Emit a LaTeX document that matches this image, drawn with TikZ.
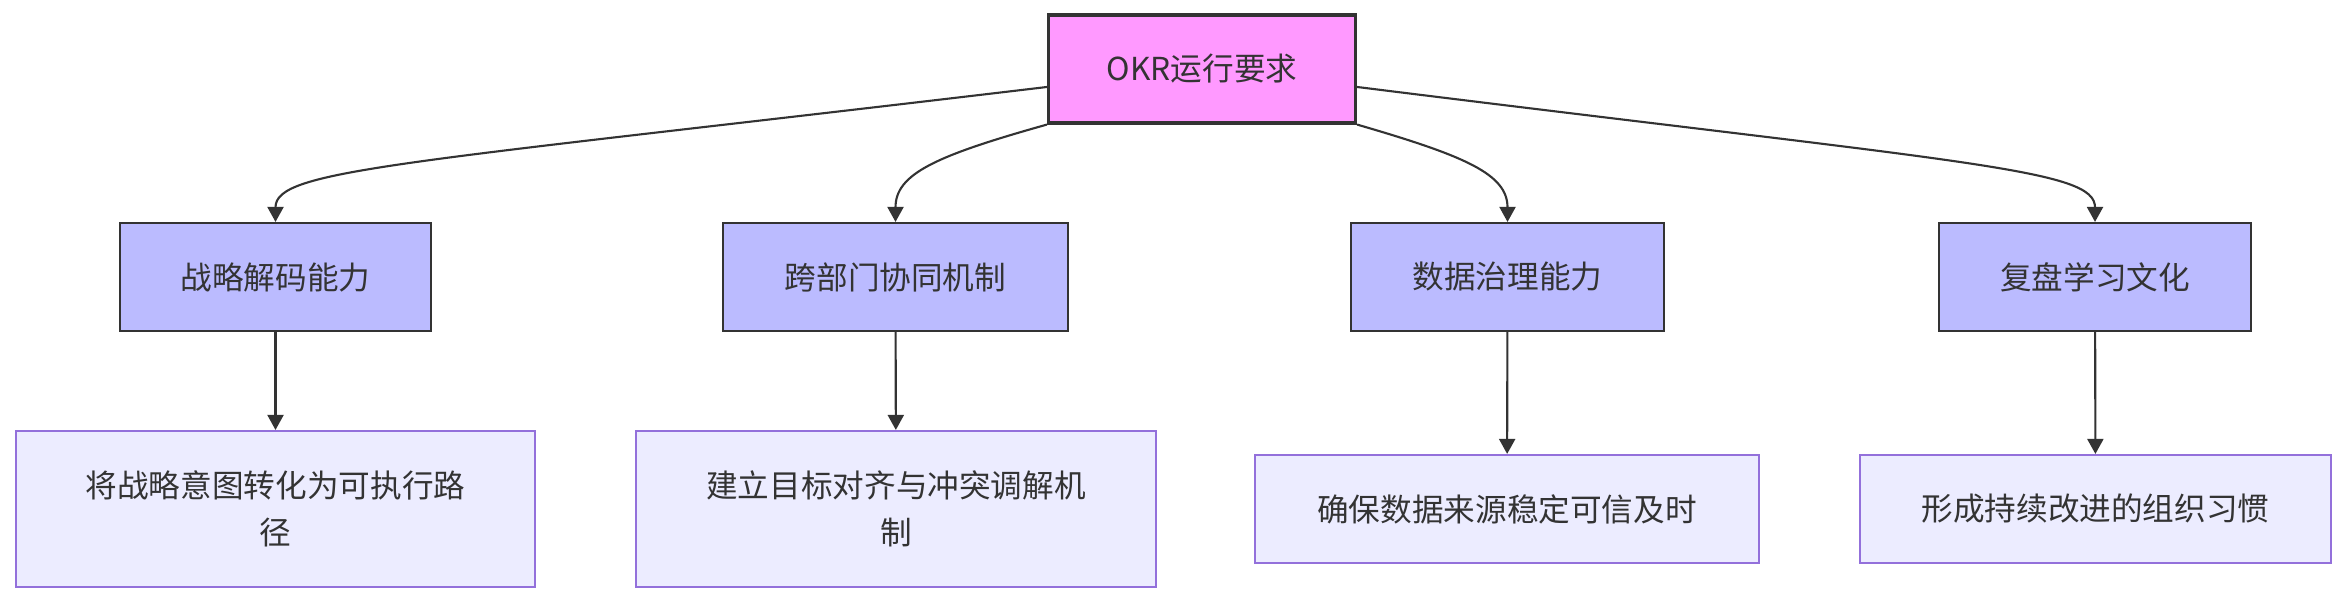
\documentclass[tikz,border=0pt]{standalone}
\usepackage{fontspec}
\newfontfamily\cjk{Noto Sans CJK SC}
\usetikzlibrary{arrows.meta}
\definecolor{ink}{HTML}{333333}
\definecolor{rootfill}{HTML}{FF99FF}
\definecolor{midfill}{HTML}{BBBBFF}
\definecolor{leaffill}{HTML}{ECECFF}
\definecolor{leafline}{HTML}{9370DB}

\begin{document}
\begin{tikzpicture}[>={Triangle[length=1.5mm,width=1.6mm]},
        every node/.style={font=\cjk\fontsize{9}{13.4}\selectfont, text=ink, inner sep=0pt},
        topbox/.style={draw=ink, line width=0.9pt, fill=rootfill, minimum height=1.08cm},
        midbox/.style={draw=ink, line width=0.6pt, fill=midfill, minimum height=1.08cm},
        leafbox/.style={draw=leafline, line width=0.6pt, fill=leaffill, align=center}]
        \useasboundingbox (0,0) rectangle (23.48,6.04);

        \node[topbox, minimum width=3.07cm] (O) at (12.02,5.35) {OKR运行要求};

        \node[midbox, minimum width=3.11cm] (A) at (2.755,3.27) {战略解码能力};
        \node[midbox, minimum width=3.45cm] (B) at (8.955,3.27) {跨部门协同机制};
        \node[midbox, minimum width=3.13cm] (C) at (15.075,3.27) {数据治理能力};
        \node[midbox, minimum width=3.12cm] (D) at (20.95,3.27) {复盘学习文化};

        \node[leafbox, minimum width=5.19cm, minimum height=1.56cm] (A1) at (2.755,0.95) {将战略意图转化为可执行路\\径};
        \node[leafbox, minimum width=5.20cm, minimum height=1.56cm] (B1) at (8.96,0.95) {建立目标对齐与冲突调解机\\制};
        \node[leafbox, minimum width=5.04cm, minimum height=1.08cm] (C1) at (15.07,0.95) {确保数据来源稳定可信及时};
        \node[leafbox, minimum width=4.71cm, minimum height=1.08cm] (D1) at (20.955,0.95) {形成持续改进的组织习惯};

        \draw[->, ink, line width=0.6pt] ([yshift=-0.18cm]O.west) .. controls (4.0,4.40) and (2.755,4.35) .. (A.north);
        \draw[->, ink, line width=0.6pt] (O.south west) .. controls (9.35,4.48) and (8.955,4.3) .. (B.north);
        \draw[->, ink, line width=0.6pt] (O.south east) .. controls (14.65,4.48) and (15.075,4.3) .. (C.north);
        \draw[->, ink, line width=0.6pt] ([yshift=-0.18cm]O.east) .. controls (19.75,4.40) and (20.95,4.35) .. (D.north);

        \draw[->, ink, line width=0.6pt] (A) -- (A1);
        \draw[->, ink, line width=0.6pt] (B) -- (B1);
        \draw[->, ink, line width=0.6pt] (C) -- (C1);
        \draw[->, ink, line width=0.6pt] (D) -- (D1);
    \end{tikzpicture}
\end{document}
